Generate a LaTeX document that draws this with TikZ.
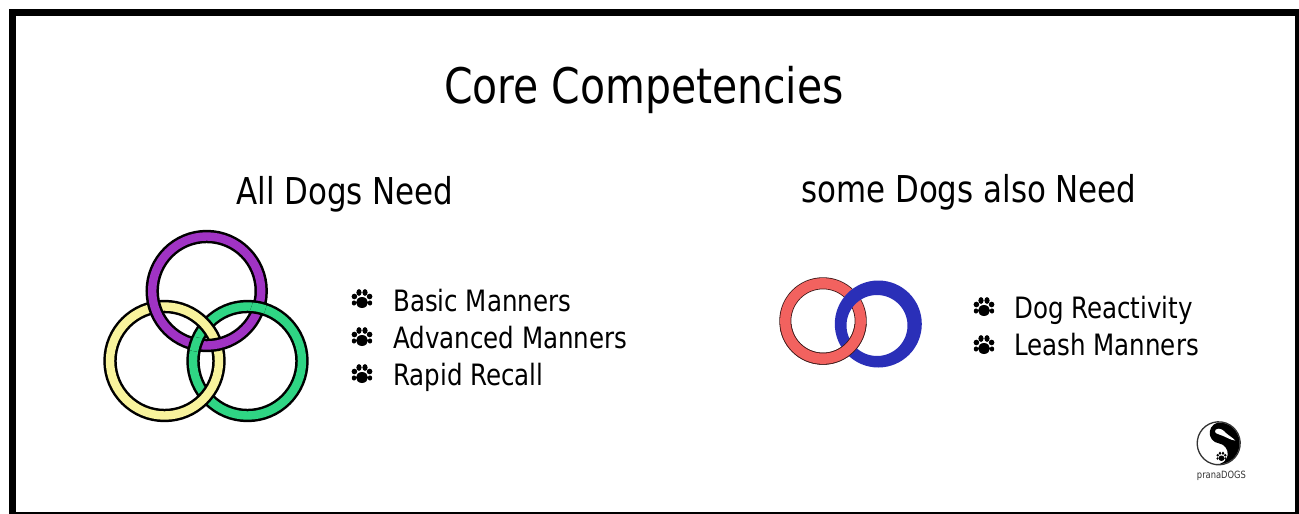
\documentclass[tikz,border=0pt]{standalone}
\usepackage{fontspec}
\setmainfont[FakeStretch=0.928]{DejaVu Sans Condensed}
\definecolor{rpurple}{HTML}{A033C4}
\definecolor{ryellow}{HTML}{F8F39C}
\definecolor{rgreen}{HTML}{2FD584}
\definecolor{rred}{HTML}{F2625F}
\definecolor{rblue}{HTML}{2A2FB8}
\newcommand{\bandring}[3]{%
  \draw[line width=13.4pt,black] (#1) circle[radius=54.5pt];
  \draw[line width=8.4pt,#3] (#1) circle[radius=54.5pt];}
\tikzset{
  heading/.style={anchor=base,inner sep=0pt,font=\fontsize{#1}{#1}\selectfont},
  item/.style={anchor=base west,inner sep=0pt,font=\fontsize{29.4}{29.4}\selectfont},
  paw/.pic={
    \fill[black] (0,3.5) ellipse[x radius=6pt,y radius=5.5pt];
    \fill[black] (-3,-6.5) ellipse[x radius=2.6pt,y radius=3.4pt];
    \fill[black] (3,-6.5) ellipse[x radius=2.6pt,y radius=3.4pt];
    \fill[black] (-7.6,-2.5) ellipse[x radius=2.8pt,y radius=2.8pt];
    \fill[black] (7.6,-2.5) ellipse[x radius=2.8pt,y radius=2.8pt];
    \fill[black] (-8,4) ellipse[x radius=2.2pt,y radius=2.6pt];
    \fill[black] (8,4) ellipse[x radius=2.2pt,y radius=2.6pt];
  }
}
\begin{document}
\begin{tikzpicture}[x=1pt,y=-1pt]
\useasboundingbox (0,0) rectangle (1299,514);
\fill[white] (0,0) rectangle (1299,514);
\fill[black] (9,9) rectangle (1299,514);
\fill[white] (16,16) rectangle (1295,512);

\node[heading=49] (title) at (644,103) {Core Competencies};
\node[heading=37] (allhead) at (345,204) {All Dogs Need};
\node[heading=37] (somehead) at (969,202) {some Dogs also Need};

% left rings
\coordinate (P) at (206.7,291);
\coordinate (Y) at (164.5,361);
\coordinate (G) at (247.5,361);
\bandring{G}{}{rgreen}
\bandring{Y}{}{ryellow}
\bandring{P}{}{rpurple}
\begin{scope}[even odd rule]
  \clip (P) circle[radius=61.5pt] (P) circle[radius=47.5pt];
  \bandring{G}{}{rgreen}
\end{scope}

% right rings
\coordinate (R) at (823,321);
\coordinate (Bo) at (878.3,324);
\coordinate (Bi) at (877,325.5);
\newcommand{\redring}{%
  \draw[line width=12pt,black!75!rred] (R) circle[radius=37.7pt];
  \draw[line width=10.4pt,rred] (R) circle[radius=37.7pt];}
\redring
\fill[rblue,even odd rule] (Bo) circle[radius=43.5pt] (Bi) circle[radius=30.5pt];
\begin{scope}
  \clip (780,324) rectangle (890,370);
  \redring
\end{scope}

% lists
\pic at (362,299) {paw};
\pic at (362,337) {paw};
\pic at (362,374) {paw};
\node[item] (basic) at (393,311) {Basic Manners};
\node[item] (adv) at (393,348) {Advanced Manners};
\node[item] (rapid) at (393,385) {Rapid Recall};
\pic at (984,307) {paw};
\pic at (984,345) {paw};
\node[item] (react) at (1014,318) {Dog Reactivity};
\node[item] (leash) at (1014,355) {Leash Manners};

% logo
\begin{scope}[shift={(1218.7,443.3)},y=1pt,rotate=-8]
  \fill[black] (0,21) arc[start angle=90,end angle=-90,radius=21pt]
     arc[start angle=270,end angle=450,radius=10.5pt]
     arc[start angle=270,end angle=90,radius=10.5pt] -- cycle;
  \draw[line width=1.3pt,black!80] (0,0) circle[radius=21.5pt];
  \fill[white] (-5,13) .. controls (-2,16) and (3,14) .. (6,11) .. controls (9,9) and (14,7) .. (16,5) .. controls (11,5) and (7,7) .. (3,8) .. controls (-1,9) and (-7,9) .. (-5,13) -- cycle;
\end{scope}
\pic[scale=0.5] at (1221.5,456.5) {paw};
\node[inner sep=0pt,font=\fontsize{10}{10}\selectfont,text=black!80] (logotext) at (1221.5,476) {pranaDOGS};
\end{tikzpicture}
\end{document}
